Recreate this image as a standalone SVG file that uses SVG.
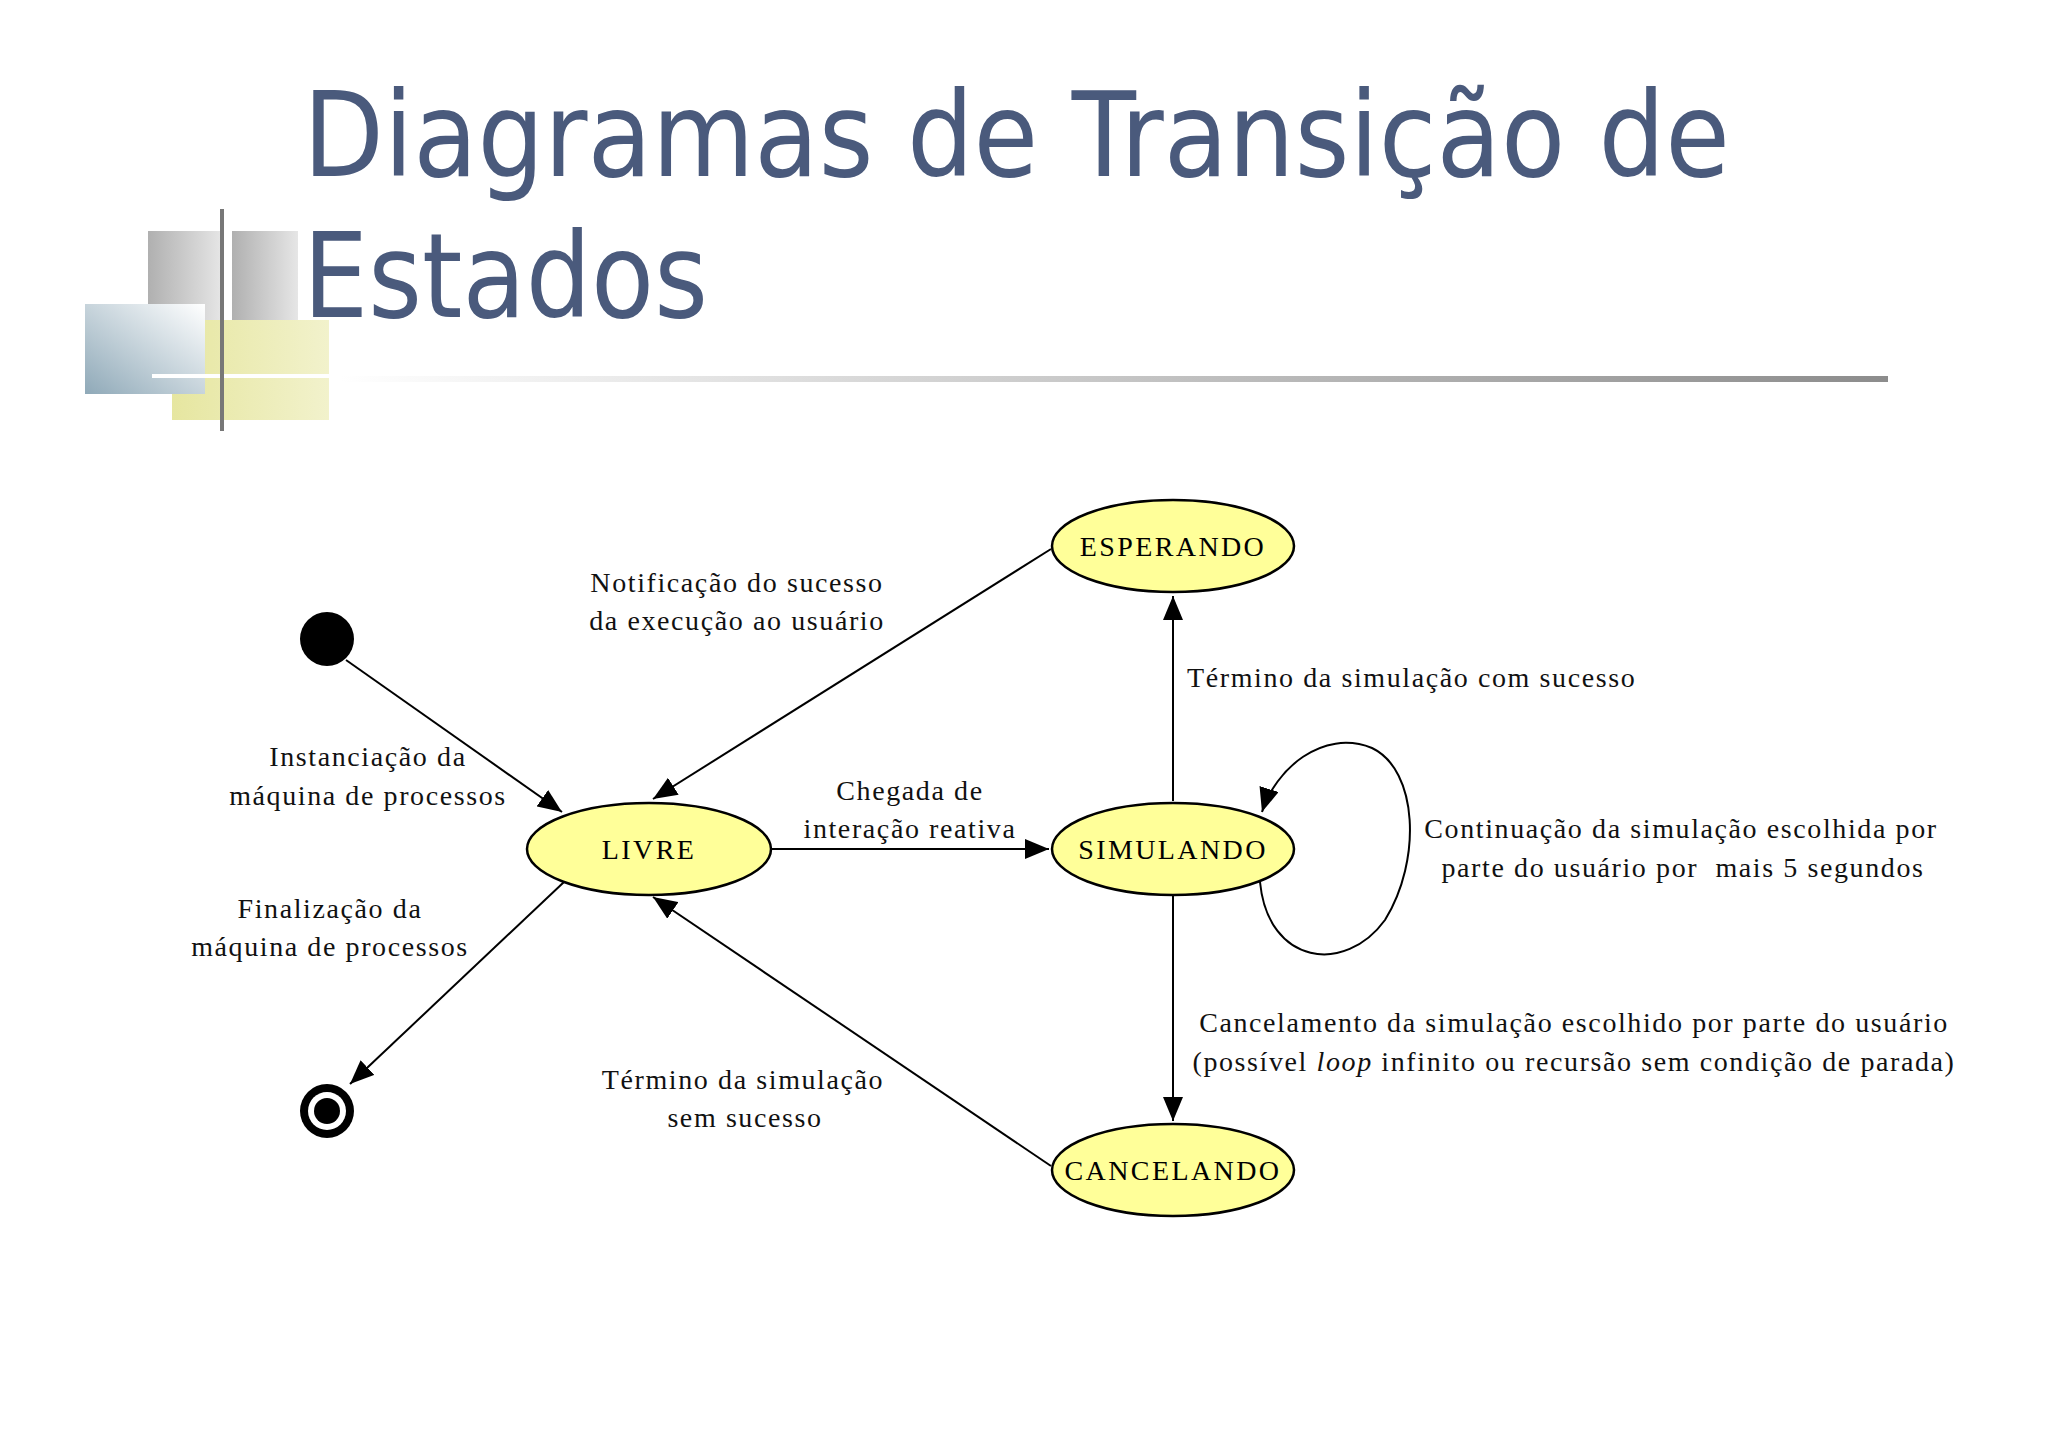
<svg xmlns="http://www.w3.org/2000/svg" width="2048" height="1447" viewBox="0 0 2048 1447">
<defs>
<linearGradient id="hl" x1="0" x2="1" y1="0" y2="0"><stop offset="0" stop-color="#ffffff"/><stop offset="1" stop-color="#8c8c8c"/></linearGradient>
<linearGradient id="bl" x1="0" x2="1" y1="1" y2="0"><stop offset="0" stop-color="#8fa9b8"/><stop offset="1" stop-color="#ffffff"/></linearGradient>
<linearGradient id="gr" x1="0" x2="1"><stop offset="0" stop-color="#b0b0b0"/><stop offset="1" stop-color="#e6e6e6"/></linearGradient>
<linearGradient id="ye" x1="0" x2="1"><stop offset="0" stop-color="#e6e6a0"/><stop offset="1" stop-color="#f2f2cc"/></linearGradient>
<marker id="a" viewBox="0 0 12 10" refX="12" refY="5" markerWidth="24" markerHeight="20" markerUnits="userSpaceOnUse" orient="auto"><path d="M0,0 L12,5 L0,10 z" fill="#000"/></marker>
</defs>
<style>
.st{fill:#ffff99;stroke:#000;stroke-width:2.5}
.nt{font-family:"Liberation Serif",serif;font-size:28px;text-anchor:middle;fill:#000;letter-spacing:2.4px}
.lb{font-family:"Liberation Serif",serif;font-size:28px;fill:#111;letter-spacing:1.6px}
.c{text-anchor:middle}
.e{fill:none;stroke:#000;stroke-width:2}
.ti{font-family:"DejaVu Sans","Liberation Sans",sans-serif;font-size:118px;fill:#4a5a7c}
</style>
<rect width="2048" height="1447" fill="#fff"/>
<g id="decor">
<rect x="148" y="231" width="74" height="89" fill="url(#gr)"/>
<rect x="232" y="231" width="66" height="89" fill="url(#gr)"/>
<rect x="172" y="320" width="157" height="100" fill="url(#ye)"/>
<rect x="85" y="304" width="120" height="90" fill="url(#bl)"/>
<rect x="152" y="374" width="177" height="4" fill="#fff"/>
<rect x="220" y="209" width="4" height="222" fill="#777"/>
<rect x="340" y="376" width="1548" height="6" fill="url(#hl)"/>
</g>
<text class="ti" x="303" y="176" textLength="1427" lengthAdjust="spacingAndGlyphs">Diagramas de Transição de</text>
<text class="ti" x="303" y="317" textLength="405" lengthAdjust="spacingAndGlyphs">Estados</text>
<g id="connectors">
<line class="e" x1="346" y1="660" x2="562" y2="812" marker-end="url(#a)"/>
<line class="e" x1="1051" y1="549" x2="653" y2="799" marker-end="url(#a)"/>
<line class="e" x1="772" y1="849" x2="1049" y2="849" marker-end="url(#a)"/>
<line class="e" x1="1173" y1="801" x2="1173" y2="596" marker-end="url(#a)"/>
<line class="e" x1="1173" y1="896" x2="1173" y2="1121" marker-end="url(#a)"/>
<line class="e" x1="1051" y1="1166" x2="653" y2="897" marker-end="url(#a)"/>
<line class="e" x1="564" y1="882" x2="350" y2="1084" marker-end="url(#a)"/>
<path class="e" d="M1260,882 C1268,965 1345,975 1385,920 C1422,860 1418,770 1372,748 C1322,728 1275,770 1262,812" marker-end="url(#a)"/>
</g>
<g id="initial"><circle cx="327" cy="639" r="27" fill="#000"/></g>
<g id="final"><circle cx="327" cy="1111" r="27" fill="#000"/><circle cx="327" cy="1111" r="19" fill="#fff"/><circle cx="327" cy="1111" r="13" fill="#000"/></g>
<g id="esperando"><ellipse class="st" cx="1173" cy="546" rx="121" ry="46"/><text class="nt" x="1173" y="556">ESPERANDO</text></g>
<g id="livre"><ellipse class="st" cx="649" cy="849" rx="122" ry="46"/><text class="nt" x="649" y="859">LIVRE</text></g>
<g id="simulando"><ellipse class="st" cx="1173" cy="849" rx="121" ry="46"/><text class="nt" x="1173" y="859">SIMULANDO</text></g>
<g id="cancelando"><ellipse class="st" cx="1173" cy="1170" rx="121" ry="46"/><text class="nt" x="1173" y="1180">CANCELANDO</text></g>
<g id="labels">
<text class="lb c" x="737" y="592">Notificação do sucesso</text>
<text class="lb c" x="737" y="630">da execução ao usuário</text>
<text class="lb c" x="368" y="766">Instanciação da</text>
<text class="lb c" x="368" y="805">máquina de processos</text>
<text class="lb c" x="330" y="918">Finalização da</text>
<text class="lb c" x="330" y="956">máquina de processos</text>
<text class="lb c" x="910" y="800">Chegada de</text>
<text class="lb c" x="910" y="838">interação reativa</text>
<text class="lb" x="1187" y="687">Término da simulação com sucesso</text>
<text class="lb c" x="1681" y="838">Continuação da simulação escolhida por</text>
<text class="lb c" x="1683" y="877" xml:space="preserve">parte do usuário por  mais 5 segundos</text>
<text class="lb c" x="1574" y="1032">Cancelamento da simulação escolhido por parte do usuário</text>
<text class="lb c" x="1574" y="1071">(possível <tspan font-style="italic">loop</tspan> infinito ou recursão sem condição de parada)</text>
<text class="lb c" x="743" y="1089">Término da simulação</text>
<text class="lb c" x="745" y="1127">sem sucesso</text>
</g>
</svg>
